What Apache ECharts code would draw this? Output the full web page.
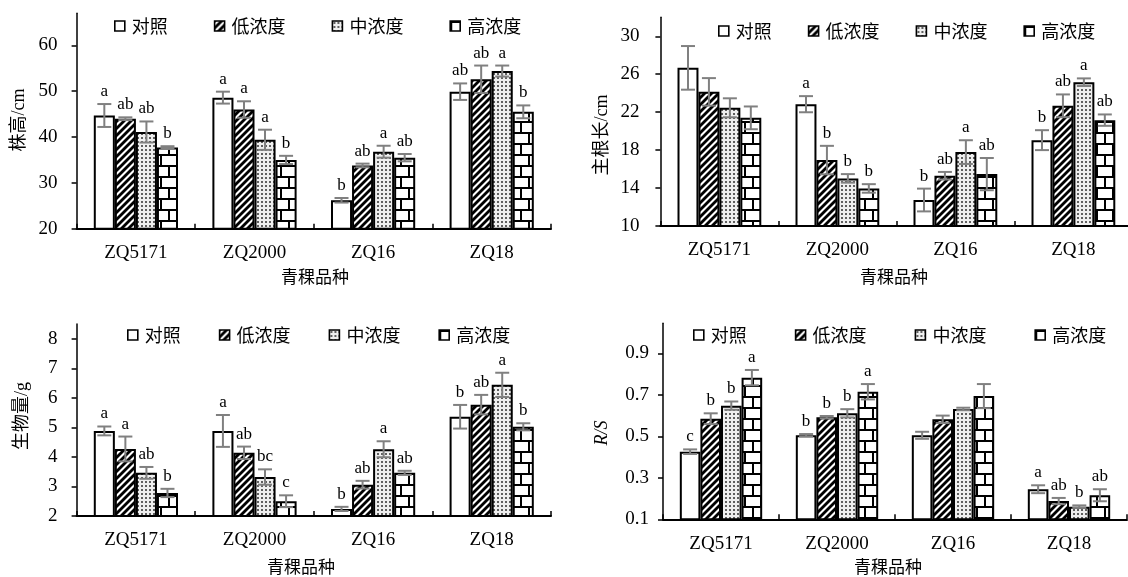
<!DOCTYPE html>
<html>
<head>
<meta charset="utf-8">
<script src="https://cdn.jsdelivr.net/npm/echarts@6/dist/echarts.min.js"></script>
<style>html,body{margin:0;padding:0;background:#fff}#main{width:1128px;height:577px}</style>
</head>
<body>
<div id="main"></div>
<script>
// ---------- data ----------
const categories = ['ZQ5171', 'ZQ2000', 'ZQ16', 'ZQ18'];
const seriesNames = ['对照', '低浓度', '中浓度', '高浓度'];

// 株高/cm
const height_ck   = [44.7, 48.6, 26.2, 49.9];
const height_low  = [44.0, 46.0, 33.8, 52.6];
const height_mid  = [41.1, 39.4, 36.8, 54.4];
const height_high = [37.7, 35.0, 35.5, 45.5];
const height_err_ck   = [2.5, 1.3, 0.5, 1.8];
const height_err_low  = [0.3, 1.8, 0.4, 3.0];
const height_err_mid  = [2.3, 2.2, 1.3, 1.2];
const height_err_high = [0.3, 0.9, 0.8, 1.4];
const height_lab_ck   = ['a', 'a', 'b', 'ab'];
const height_lab_low  = ['ab', 'a', 'ab', 'ab'];
const height_lab_mid  = ['ab', 'a', 'a', 'a'];
const height_lab_high = ['b', 'b', 'ab', 'b'];
const height_ticks = [20, 30, 40, 50, 60];

// 主根长/cm
const root_ck   = [26.67, 22.84, 12.74, 19.05];
const root_low  = [24.14, 16.95, 15.30, 22.67];
const root_mid  = [22.46, 15.02, 17.79, 25.16];
const root_high = [21.40, 13.96, 15.47, 21.16];
const root_err_ck   = [2.3, 0.85, 1.2, 1.05];
const root_err_low  = [1.45, 1.5, 0.4, 1.2];
const root_err_mid  = [1.0, 0.45, 1.25, 0.4];
const root_err_high = [1.2, 0.45, 1.7, 0.6];
const root_lab_ck   = ['', 'a', 'b', 'b'];
const root_lab_low  = ['', 'b', 'ab', 'ab'];
const root_lab_mid  = ['', 'b', 'a', 'a'];
const root_lab_high = ['', 'b', 'ab', 'ab'];
const root_ticks = [10, 14, 18, 22, 26, 30];

// 生物量/g
const bio_ck   = [4.88, 4.88, 2.24, 5.36];
const bio_low  = [4.27, 4.14, 3.06, 5.77];
const bio_mid  = [3.46, 3.32, 4.26, 6.44];
const bio_high = [2.78, 2.50, 3.46, 5.02];
const bio_err_ck   = [0.15, 0.54, 0.07, 0.40];
const bio_err_low  = [0.42, 0.21, 0.13, 0.33];
const bio_err_mid  = [0.20, 0.26, 0.27, 0.41];
const bio_err_high = [0.14, 0.20, 0.07, 0.12];
const bio_lab_ck   = ['a', 'a', 'b', 'b'];
const bio_lab_low  = ['a', 'ab', 'ab', 'ab'];
const bio_lab_mid  = ['ab', 'bc', 'a', 'a'];
const bio_lab_high = ['b', 'c', 'ab', 'b'];
const bio_ticks = [2, 3, 4, 5, 6, 7, 8];

// R/S
const rs_ck   = [0.426, 0.505, 0.505, 0.245];
const rs_low  = [0.585, 0.592, 0.582, 0.188];
const rs_mid  = [0.648, 0.611, 0.632, 0.161];
const rs_high = [0.783, 0.715, 0.694, 0.216];
const rs_err_ck   = [0.011, 0.006, 0.017, 0.019];
const rs_err_low  = [0.026, 0.006, 0.018, 0.015];
const rs_err_mid  = [0.020, 0.020, 0.006, 0.006];
const rs_err_high = [0.037, 0.037, 0.058, 0.029];
const rs_lab_ck   = ['c', 'b', '', 'a'];
const rs_lab_low  = ['b', 'b', '', 'ab'];
const rs_lab_mid  = ['b', 'b', '', 'b'];
const rs_lab_high = ['a', 'a', '', 'ab'];
const rs_ticks = [0.1, 0.3, 0.5, 0.7, 0.9];

// ---------- assembly ----------
const panels = [
  { values: [height_ck, height_low, height_mid, height_high],
    errs: [height_err_ck, height_err_low, height_err_mid, height_err_high],
    labs: [height_lab_ck, height_lab_low, height_lab_mid, height_lab_high],
    ticks: height_ticks, min: 20, max: 67, yTitle: '株高/cm',
    grid: { left: 76.6, top: 13.3, width: 474.4, height: 215.4 },
    labelMargin: 19,
    legend: { left: 109, top: 12, itemGap: 46 },
    xTitle: [315, 277], yTitlePos: [19, 120] },
  { values: [root_ck, root_low, root_mid, root_high],
    errs: [root_err_ck, root_err_low, root_err_mid, root_err_high],
    labs: [root_lab_ck, root_lab_low, root_lab_mid, root_lab_high],
    ticks: root_ticks, min: 10, max: 32, yTitle: '主根长/cm',
    grid: { left: 660.4, top: 17.3, width: 472, height: 208.7 },
    labelMargin: 21,
    legend: { left: 713, top: 17, itemGap: 36 },
    xTitle: [894, 277], yTitlePos: [602, 135] },
  { values: [bio_ck, bio_low, bio_mid, bio_high],
    errs: [bio_err_ck, bio_err_low, bio_err_mid, bio_err_high],
    labs: [bio_lab_ck, bio_lab_low, bio_lab_mid, bio_lab_high],
    ticks: bio_ticks, min: 2, max: 8.5, yTitle: '生物量/g',
    grid: { left: 76.6, top: 324, width: 474.4, height: 192 },
    labelMargin: 19,
    legend: { left: 122, top: 321, itemGap: 38 },
    xTitle: [301, 567], yTitlePos: [22, 416] },
  { values: [rs_ck, rs_low, rs_mid, rs_high],
    errs: [rs_err_ck, rs_err_low, rs_err_mid, rs_err_high],
    labs: [rs_lab_ck, rs_lab_low, rs_lab_mid, rs_lab_high],
    ticks: rs_ticks, min: 0.1, max: 1.045, yTitle: 'R/S', italic: true,
    grid: { left: 663, top: 323.3, width: 464, height: 196 },
    labelMargin: 14,
    legend: { left: 688, top: 321, itemGap: 48 },
    xTitle: [888, 567], yTitlePos: [602, 433] }
];

function mkCanvas(w, h, draw) {
  const c = document.createElement('canvas');
  c.width = w; c.height = h;
  draw(c.getContext('2d'));
  return c;
}
const patHatch = mkCanvas(7, 7, g => {
  g.fillStyle = '#fff'; g.fillRect(0, 0, 7, 7);
  g.strokeStyle = '#000'; g.lineWidth = 2.8;
  for (let k = -1; k <= 1; k++) {
    g.beginPath(); g.moveTo(k * 7 - 1, 8); g.lineTo(k * 7 + 8, -1); g.stroke();
  }
});
const patDots = mkCanvas(4, 4, g => {
  g.fillStyle = '#efefef'; g.fillRect(0, 0, 4, 4);
  g.fillStyle = '#5f5f5f'; g.fillRect(1, 1, 2, 2);
});
const patBrick = mkCanvas(16, 22, g => {
  g.fillStyle = '#fff'; g.fillRect(0, 0, 16, 22);
  g.fillStyle = '#000';
  g.fillRect(0, 0, 16, 2); g.fillRect(0, 11, 16, 2);
  g.fillRect(0, 2, 2, 9); g.fillRect(8, 13, 2, 9);
});
const fills = ['#ffffff',
  { image: patHatch, repeat: 'repeat' },
  { image: patDots, repeat: 'repeat' },
  { image: patBrick, repeat: 'repeat' }];

const SERIF = '"Liberation Serif", "Noto Sans CJK SC"';
const GAP = 0.29;

const option = {
  animation: false,
  backgroundColor: '#fff',
  grid: [], xAxis: [], yAxis: [], legend: [], series: [], graphic: []
};

panels.forEach((P, p) => {
  option.grid.push(Object.assign({ outerBoundsMode: 'none', containLabel: false }, P.grid));
  option.xAxis.push({
    type: 'category', gridIndex: p, data: categories,
    axisLine: { lineStyle: { color: '#000', width: 2 } },
    axisTick: { show: true, inside: true, length: 5, lineStyle: { color: '#000', width: 1.5 } },
    axisLabel: { color: '#000', fontFamily: SERIF, fontSize: 19, margin: 15 },
    splitLine: { show: false }
  });
  option.yAxis.push({
    type: 'value', gridIndex: p, min: P.min, max: P.max,
    axisLine: { show: true, lineStyle: { color: '#000', width: 1.5 } },
    axisTick: { show: true, length: 5, customValues: P.ticks, lineStyle: { color: '#000', width: 1.5 } },
    axisLabel: { color: '#000', fontFamily: SERIF, fontSize: 19, margin: P.labelMargin,
      customValues: P.ticks, formatter: v => String(+v.toFixed(2)) },
    splitLine: { show: false }
  });
  option.legend.push({
    left: P.legend.left, top: P.legend.top, itemGap: P.legend.itemGap,
    itemWidth: 10, itemHeight: 10, icon: 'rect', orient: 'horizontal',
    data: seriesNames, selectedMode: false,
    itemStyle: { borderColor: '#000', borderWidth: 1.6 },
    textStyle: { color: '#000', fontFamily: '"Noto Sans CJK SC"', fontSize: 18, padding: [0, 0, 0, 2] }
  });
  seriesNames.forEach((name, s) => {
    option.series.push({
      type: 'bar', name: name, xAxisIndex: p, yAxisIndex: p,
      data: P.values[s], barGap: '0%', barCategoryGap: (GAP * 100) + '%',
      itemStyle: { color: fills[s], borderColor: '#000', borderWidth: 2 },
      emphasis: { disabled: true }
    });
  });
  const items = [];
  for (let s = 0; s < 4; s++) for (let c = 0; c < 4; c++) items.push([c, P.values[s][c], P.errs[s][c], s]);
  option.series.push({
    type: 'custom', xAxisIndex: p, yAxisIndex: p, z: 5, silent: true,
    data: items, encode: { x: 0, y: 1 },
    renderItem: (params, api) => {
      const c = api.value(0), v = api.value(1), e = api.value(2), s = api.value(3);
      const band = api.size([1, 0])[0];
      const bw = band * (1 - GAP) / 4;
      const x = api.coord([c, v])[0] + (s - 1.5) * bw;
      const yT = api.coord([c, v + e])[1];
      const yB = api.coord([c, v - e])[1];
      const hw = 7;
      const ls = { stroke: '#808080', lineWidth: 2 };
      const lab = P.labs[s][c];
      return { type: 'group', children: [
        { type: 'line', shape: { x1: x, y1: yT, x2: x, y2: yB }, style: ls },
        { type: 'line', shape: { x1: x - hw, y1: yT, x2: x + hw, y2: yT }, style: ls },
        { type: 'line', shape: { x1: x - hw, y1: yB, x2: x + hw, y2: yB }, style: ls },
        { type: 'text', style: { text: lab, x: x, y: yT - 4, align: 'center', verticalAlign: 'bottom',
          font: '17px "Liberation Serif"', fill: '#000' } }
      ] };
    }
  });
  option.graphic.push({
    type: 'text', x: P.xTitle[0], y: P.xTitle[1],
    style: { text: '青稞品种', align: 'center', verticalAlign: 'middle',
      font: '17px "Noto Sans CJK SC"', fill: '#000' }
  });
  option.graphic.push({
    type: 'text', x: P.yTitlePos[0], y: P.yTitlePos[1], rotation: Math.PI / 2,
    style: { text: P.yTitle, align: 'center', verticalAlign: 'middle',
      font: (P.italic ? 'italic ' : '') + '18px ' + SERIF, fill: '#000' }
  });
});

const chart = echarts.init(document.getElementById('main'), null, { renderer: 'canvas' });
chart.setOption(option);
</script>
</body>
</html>
